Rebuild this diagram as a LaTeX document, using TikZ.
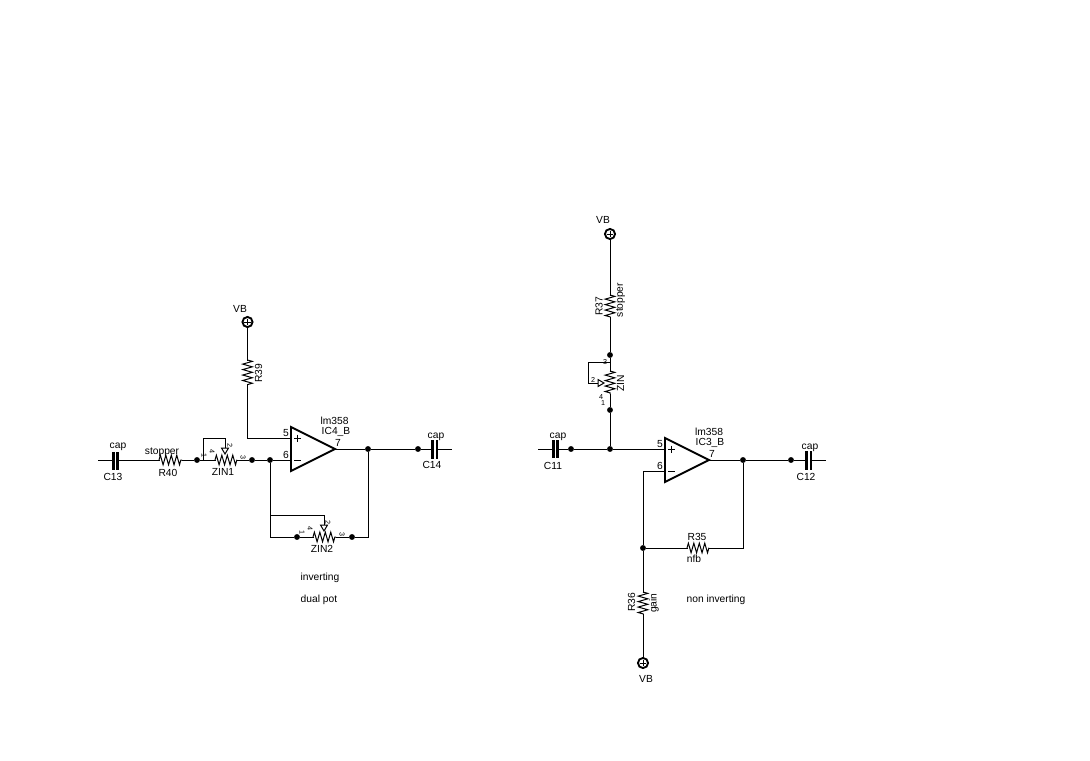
\documentclass[tikz,border=0pt]{standalone}
\usepackage{fontspec}
\setmainfont{Liberation Sans}
\usetikzlibrary{decorations.pathmorphing}
\tikzset{
  wire/.style={line width=0.75pt,line cap=rect},
  res/.style={line width=0.75pt,decorate,decoration={zigzag,amplitude=3.6pt,segment length=4.1pt}},
  dot/.style={circle,fill=black,inner sep=0pt,minimum size=4.4pt},
  plate/.style={line width=2.2pt},
  amp/.style={line width=1.4pt,line join=miter},
  vbc/.style={circle,draw=black,line width=1.4pt,inner sep=0pt,minimum size=7.6pt,path picture={\draw[line width=0.75pt] ([yshift=2.4pt]path picture bounding box.center) -- ([yshift=-2.4pt]path picture bounding box.center) ([xshift=-2.4pt]path picture bounding box.center) -- ([xshift=2.4pt]path picture bounding box.center);}},
  lab/.style={inner sep=0pt,font=\fontsize{7.7pt}{8pt}\selectfont},
  tiny/.style={inner sep=0pt,font=\fontsize{5.4pt}{6pt}\selectfont},
  wiper/.style={line width=0.75pt,fill=white}
}
\begin{document}
\begin{tikzpicture}[x=0.75pt,y=-0.75pt]
\path[use as bounding box,fill=white] (0,0) rectangle (1090,761);
% ---------- left circuit
\coordinate (c13l) at (98,460); \coordinate (c13a) at (113.5,460); \coordinate (c13b) at (117.5,460);
\coordinate (r40a) at (159,460); \coordinate (r40b) at (182,460);
\node[dot] (d1) at (197,460) {};
\coordinate (z1a) at (215,460); \coordinate (z1b) at (237,460);
\node[dot] (d2) at (252,460) {};
\node[dot] (d3) at (270,460) {};
\coordinate (a4p) at (291,438); \coordinate (a4m) at (291,460);
\coordinate (a4t) at (291,427); \coordinate (a4u) at (291,471); \coordinate (a4o) at (335,449);
\node[dot] (d4) at (368,449) {};
\node[dot] (d5) at (418,449) {};
\coordinate (c14a) at (432.5,449); \coordinate (c14b) at (437,449); \coordinate (c14r) at (451,449);
\node[vbc] (vb1) at (247.5,322) {};
\coordinate (r39a) at (247.5,360); \coordinate (r39b) at (247.5,385); \coordinate (r39c) at (247.5,438);
\coordinate (l1) at (203,460); \coordinate (l1t) at (203,438); \coordinate (l1r) at (225,438); \coordinate (l1w) at (225,448);
\coordinate (k1) at (270,515); \coordinate (k1r) at (324,515); \coordinate (k1w) at (324,525); \coordinate (k1b) at (270,537);
\node[dot] (d6) at (297,537) {};
\coordinate (z2a) at (313,537); \coordinate (z2b) at (336,537);
\node[dot] (d7) at (352,537) {};
\coordinate (d4b) at (368,537);

\draw[wire] (c13l) -- (c13a) (c13b) -- (r40a) (r40b) -- (d1) (d1) -- (z1a) (z1b) -- (d2) (d2) -- (d3) (d3) -- (a4m);
\draw[res] (r40a) -- (r40b);
\draw[res] (z1a) -- (z1b);
\draw[plate] (113.5,452) -- (113.5,470) (117.5,452) -- (117.5,470);
\draw[wire] (vb1) -- (r39a) (r39b) -- (r39c) -- (a4p);
\draw[res] (r39a) -- (r39b);
\draw[wire] (l1) -- (l1t) -- (l1r) -- (l1w);
\draw[wiper] (221.5,448) -- (228.5,448) -- (225,454) -- cycle;
\draw[amp] (a4t) -- (a4o) -- (a4u) -- cycle;
\draw[wire] (a4o) -- (d4) (d4) -- (d5) (d5) -- (c14a) (c14b) -- (c14r);
\draw[plate] (432.5,440) -- (432.5,459) (437,440) -- (437,459);
\draw[wire] (d4) -- (d4b) -- (d7) (d7) -- (z2b) (z2a) -- (d6) (d6) -- (k1b) -- (d3);
\draw[res] (z2a) -- (z2b);
\draw[wire] (k1) -- (k1r) -- (k1w);
\draw[wiper] (320.5,525) -- (327.5,525) -- (324,531) -- cycle;
\draw[line width=0.75pt] (294,438) -- (301,438) (297.5,434.5) -- (297.5,441.5) (294,460) -- (301,460);

\node[lab] (tvb1) at (240,309) {VB};
\node[lab,rotate=90] (tr39) at (258.5,373) {R39};
\node[lab] (tc13c) at (118,447) {cap};
\node[lab] (tc13) at (113,477) {C13};
\node[lab] (tst) at (162,452) {stopper};
\node[lab] (tr40) at (168,473) {R40};
\node[lab] (tz1) at (223,472) {ZIN1};
\node[tiny,rotate=-90] at (204,455) {1};
\node[tiny,rotate=-90] at (212,451) {4};
\node[tiny,rotate=-90] at (230,445) {2};
\node[tiny,rotate=-90] at (243,457) {3};
\node[lab] (t5a) at (286,433) {5};
\node[lab] (t6a) at (286,455) {6};
\node[lab] (t7a) at (338,443) {7};
\node[lab] (tl1) at (334.5,420.5) {lm358};
\node[lab] (tic4) at (336,432) {IC4\_B};
\node[lab] (tc14c) at (436,436.5) {cap};
\node[lab] (tc14) at (432,465) {C14};
\node[tiny,rotate=-90] at (302,532) {1};
\node[tiny,rotate=-90] at (310,528) {4};
\node[tiny,rotate=-90] at (328,522) {2};
\node[tiny,rotate=-90] at (342,534) {3};
\node[lab] (tz2) at (322,549) {ZIN2};
\node[lab] (tinv) at (320,578) {inverting};
\node[lab] (tdual) at (319,600) {dual pot};
% ---------- right circuit
\node[vbc] (vb2) at (610,234) {};
\coordinate (r37a) at (610,295); \coordinate (r37b) at (610,317);
\node[dot] (e1) at (610,355) {};
\coordinate (zna) at (610,371); \coordinate (znb) at (610,394);
\node[dot] (e2) at (610,410) {};
\node[dot] (e3) at (610,449) {};
\node[dot] (e4) at (571,449) {};
\coordinate (c11l) at (538,449); \coordinate (c11a) at (553.5,449); \coordinate (c11b) at (557.5,449);
\coordinate (a3p) at (665,449); \coordinate (a3m) at (665,471); \coordinate (a3c) at (643,471);
\coordinate (a3t) at (665,438); \coordinate (a3u) at (665,482); \coordinate (a3o) at (709,460);
\node[dot] (e5) at (743,460) {};
\node[dot] (e6) at (791,460) {};
\coordinate (c12a) at (806.5,460); \coordinate (c12b) at (811,460); \coordinate (c12r) at (825,460);
\node[dot] (e7) at (643,548) {};
\coordinate (r35a) at (687,548); \coordinate (r35b) at (709,548); \coordinate (r35c) at (743,548);
\coordinate (r36a) at (643,592); \coordinate (r36b) at (643,614);
\node[vbc] (vb3) at (643,663) {};
\coordinate (m1) at (610,362); \coordinate (m2) at (588,362); \coordinate (m3) at (588,383); \coordinate (m4) at (598,383);

\draw[wire] (vb2) -- (r37a) (r37b) -- (e1) (e1) -- (zna) (znb) -- (e2) (e2) -- (e3);
\draw[res] (r37a) -- (r37b);
\draw[res] (zna) -- (znb);
\draw[wire] (m1) -- (m2) -- (m3) -- (m4);
\draw[wiper] (598,379.5) -- (598,386.5) -- (604,383) -- cycle;
\draw[wire] (c11l) -- (c11a) (c11b) -- (e4) (e4) -- (e3) (e3) -- (a3p);
\draw[plate] (553.5,440) -- (553.5,458) (557.5,440) -- (557.5,458);
\draw[amp] (a3t) -- (a3o) -- (a3u) -- cycle;
\draw[line width=0.75pt] (668,449) -- (675,449) (671.5,445.5) -- (671.5,452.5) (668,471) -- (675,471);
\draw[wire] (a3o) -- (e5) (e5) -- (e6) (e6) -- (c12a) (c12b) -- (c12r);
\draw[plate] (806.5,451) -- (806.5,470) (811,451) -- (811,470);
\draw[wire] (a3m) -- (a3c) -- (e7) (e7) -- (r35a) (r35b) -- (r35c) -- (e5);
\draw[res] (r35a) -- (r35b);
\draw[wire] (e7) -- (r36a) (r36b) -- (vb3);
\draw[res] (r36a) -- (r36b);

\node[lab] (tvb2) at (603,219.5) {VB};
\node[lab,rotate=90] (tr37) at (599,306) {R37};
\node[lab,rotate=90] (tstp) at (620.5,300) {stopper};
\node[lab,rotate=90] (tzin) at (620.5,383) {ZIN};
\node[tiny] at (605,362) {3};
\node[tiny] at (593,380) {2};
\node[tiny] at (601,397) {4};
\node[tiny] at (603,403) {1};
\node[lab] (tc11c) at (558,436.5) {cap};
\node[lab] (tc11) at (553,465.5) {C11};
\node[lab] (t5b) at (660,444) {5};
\node[lab] (t6b) at (660,466) {6};
\node[lab] (t7b) at (712,454) {7};
\node[lab] (tl2) at (709,431.5) {lm358};
\node[lab] (tic3) at (710,442.5) {IC3\_B};
\node[lab] (tc12c) at (810,447.5) {cap};
\node[lab] (tc12) at (806,476.5) {C12};
\node[lab] (tr35) at (697,537) {R35};
\node[lab] (tnfb) at (694,558.5) {nfb};
\node[lab,rotate=90] (tr36) at (631.5,602) {R36};
\node[lab,rotate=90] (tgain) at (654,603) {gain};
\node[lab] (tni) at (716,600) {non inverting};
\node[lab] (tvb3) at (646,678.5) {VB};
\end{tikzpicture}
\end{document}
